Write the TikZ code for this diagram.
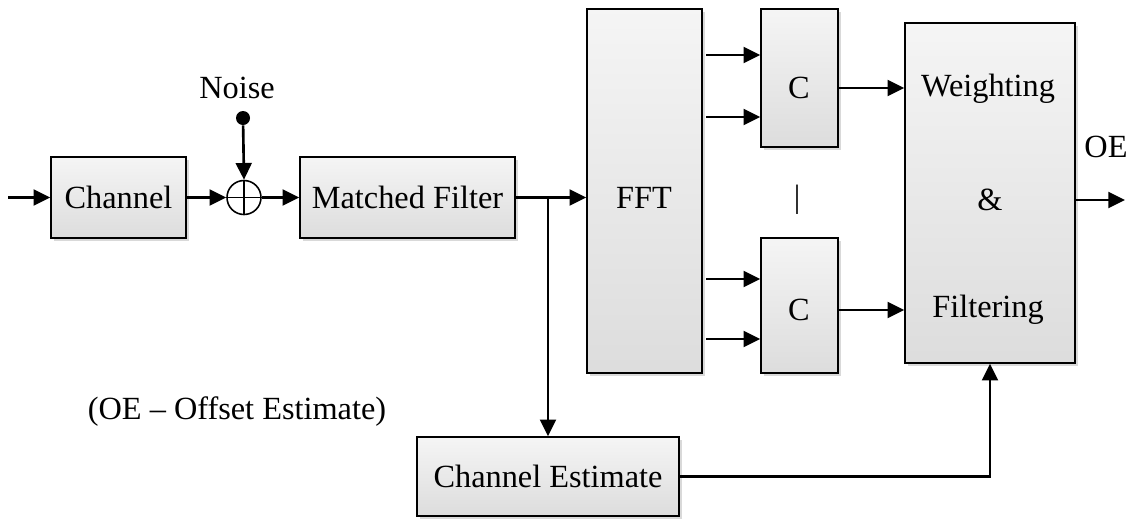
\documentclass[tikz,border=0pt]{standalone}
\usepackage{fontspec}
\setmainfont{Liberation Serif}
\usetikzlibrary{arrows.meta,shadows,calc}
\begin{document}
\begin{tikzpicture}[x=0.02cm,y=-0.02cm,
  font=\fontsize{18.4}{22}\selectfont,
  blk/.style={draw=black,line width=0.9pt,inner sep=0pt,top color=gray!8,bottom color=gray!27,
    drop shadow={opacity=0.3,shadow xshift=1.5pt,shadow yshift=-1.5pt}},
  arr/.style={line width=1.5pt,-{Triangle[length=9.5pt,width=9pt]}},
  txt/.style={inner sep=0pt}]
\useasboundingbox (0,0) rectangle (1142,518);
\newcommand\blkat[6]{\node[blk,minimum width={(#4-#2)*0.02cm},minimum height={(#5-#3)*0.02cm}] (#1) at ({(#2+#4)/2},{(#3+#5)/2}) {#6};}
\blkat{chan}{51}{157}{186}{238}{Channel}
\blkat{mf}{300}{157}{515}{238}{Matched Filter}
\blkat{fft}{587}{9}{702}{373}{}
\blkat{ca}{761}{9}{838}{147}{}
\blkat{cb}{761}{238}{838}{373}{}
\blkat{ww}{905}{23}{1075}{363}{}
\blkat{ce}{417}{437}{679}{516}{Channel Estimate}
\node[txt] (tfft) at (644,198) {FFT};
\node[txt] (tca) at (799,88) {C};
\node[txt] (tcb) at (799,310) {C};
\node[txt] (tw) at (988,89) {Weighting};
\node[txt] (ta) at (990,200) {\&};
\node[txt] (tf) at (988,310) {Filtering};
\node[txt] (bar) at (797,200) {|};
\node[txt] (oe) at (1106,147) {OE};
\node[txt] (legend) at (237,412) {(OE -- Offset Estimate)};
\node[txt] (noise) at (237,88) {Noise};
\node[draw,circle,line width=0.9pt,minimum size={34*0.02cm},inner sep=0pt,fill=white,
  path picture={\draw[line width=0.9pt] (path picture bounding box.north) -- (path picture bounding box.south)
   (path picture bounding box.west) -- (path picture bounding box.east);}] (sum) at (244,197.5) {};
\node[circle,fill=black,minimum size={14*0.02cm},inner sep=0pt] (dot) at (243,118) {};
\coordinate (in) at (8,197.5);
\coordinate (out) at (1125,200);
\draw[arr] (in) -- (chan.west);
\draw[arr] (chan.east) -- (sum.west);
\draw[arr] (dot) -- (sum.north);
\draw[arr] (sum.east) -- (mf.west);
\draw[arr] (mf.east) -- (mf.east -| fft.west);
\draw[arr] (mf.east -| ce.north) -- (ce.north);
\draw[arr,shorten <=2pt] (fft.east |- 0,55) -- (ca.west |- 0,55);
\draw[arr,shorten <=2pt] (fft.east |- 0,117) -- (ca.west |- 0,117);
\draw[arr,shorten <=2pt] (fft.east |- 0,279) -- (cb.west |- 0,279);
\draw[arr,shorten <=2pt] (fft.east |- 0,339) -- (cb.west |- 0,339);
\draw[arr] (ca.east |- 0,88) -- (ww.west |- 0,88);
\draw[arr] (cb.east |- 0,310) -- (ww.west |- 0,310);
\draw[arr] (ww.east |- out) -- (out);
\draw[arr] (ce.east) -| (ww.south);
\end{tikzpicture}
\end{document}
